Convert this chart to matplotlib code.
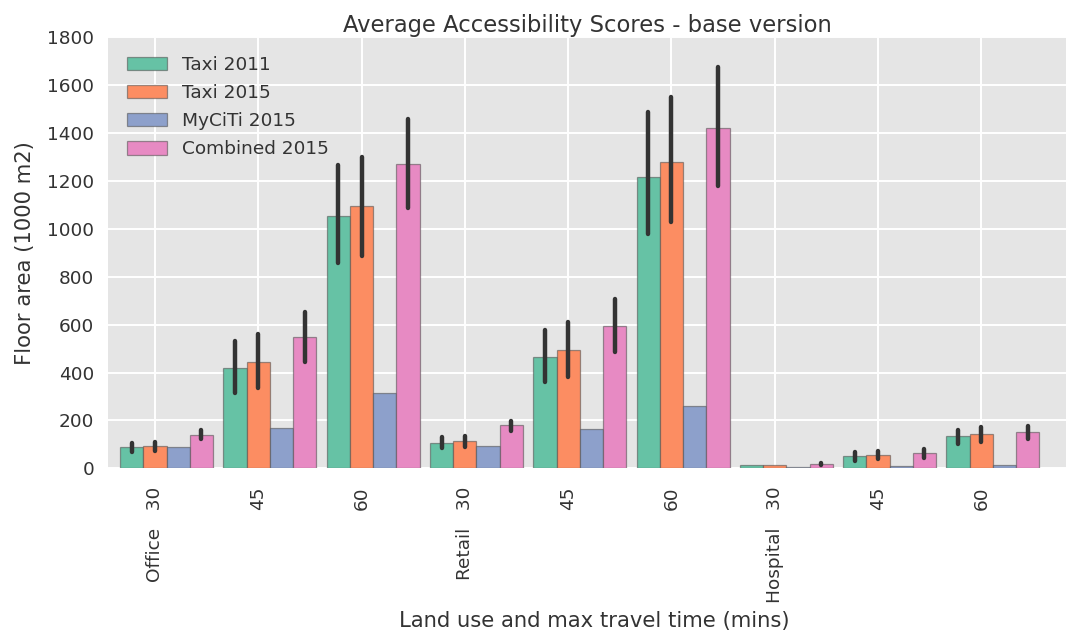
import numpy as np
import matplotlib
matplotlib.use("Agg")
import matplotlib.pyplot as plt

plt.style.use("ggplot")

# x categories: land use + max travel time
tick_labels = ["Office   30", "45", "60", "Retail   30", "45", "60",
               "Hospital   30", "45", "60"]
series = ["Taxi 2011", "Taxi 2015", "MyCiTi 2015", "Combined 2015"]
colors = ["#66c2a5", "#fc8d62", "#8da0cb", "#e78ac3"]

# mean floor area (1000 m2) per scenario
taxi_2011 = [88, 418, 1054, 104, 465, 1218, 12, 51, 134]
taxi_2015 = [93, 443, 1096, 115, 494, 1281, 12, 57, 145]
myciti_2015 = [88, 170, 313, 93, 163, 260, 6, 10, 15]
combined_2015 = [139, 547, 1270, 180, 594, 1421, 17, 63, 152]

# confidence interval bounds (no interval for MyCiTi, none visible for
# the smallest hospital taxi values)
nan = np.nan
taxi_2011_lo = [68, 313, 856, 84, 362, 979, nan, 32, 101]
taxi_2011_hi = [107, 532, 1267, 130, 578, 1488, nan, 67, 160]
taxi_2015_lo = [74, 334, 888, 90, 383, 1030, nan, 38, 109]
taxi_2015_hi = [111, 561, 1302, 135, 612, 1552, nan, 72, 171]
combined_lo = [121, 445, 1088, 157, 487, 1180, 12, 44, 121]
combined_hi = [160, 654, 1458, 199, 706, 1675, 22, 79, 177]

values = [taxi_2011, taxi_2015, myciti_2015, combined_2015]
ci = [(taxi_2011_lo, taxi_2011_hi), (taxi_2015_lo, taxi_2015_hi), None,
      (combined_lo, combined_hi)]

fig = plt.figure(figsize=(10.72, 6.32), dpi=100)
ax = fig.add_axes([0.101, 0.259, 0.8934, 0.682])
ax.set_facecolor("#E5E5E5")

x = np.arange(len(tick_labels))
w = 0.225
offsets = [-w, 0, w, 2 * w]
for vals, band, off, c, name in zip(values, ci, offsets, colors, series):
    ax.bar(x + off, vals, w, color=c, edgecolor=(0.3, 0.3, 0.3, 0.55),
           linewidth=0.9, label=name, zorder=2)
    if band is not None:
        lo, hi = np.array(band[0], float), np.array(band[1], float)
        ok = ~np.isnan(lo)
        ax.vlines((x + off)[ok], lo[ok], hi[ok], color="#333333",
                  linewidth=3.2, capstyle="round", zorder=3)

ax.set_xlim(-0.452, 8.82)
ax.set_ylim(0, 1800)
ax.set_yticks(np.arange(0, 1801, 200))
ax.set_xticks(x)
ax.set_xticklabels(tick_labels, rotation=90)
ax.tick_params(axis="x", length=0, pad=13, labelsize=13.3, colors="#333333")
ax.tick_params(axis="y", length=0, pad=10, labelsize=13.3, colors="#333333")
ax.grid(True, color="white", linewidth=1.4)
ax.set_axisbelow(True)
for s in ax.spines.values():
    s.set_visible(False)

ax.set_title("Average Accessibility Scores - base version", fontsize=16.3,
             color="#333333", pad=4)
ax.set_ylabel("Floor area (1000 m2)", fontsize=15.2, color="#333333", labelpad=9)
ax.set_xlabel("Land use and max travel time (mins)", fontsize=15.2, color="#333333")
ax.xaxis.set_label_coords(0.508, -0.33)

ax.legend(loc="upper left", frameon=False, fontsize=13.3, handlelength=2.2,
          handleheight=0.75, labelspacing=0.55, handletextpad=0.8,
          borderaxespad=0.6, labelcolor="#333333")

fig.savefig("out.png", dpi=100)
